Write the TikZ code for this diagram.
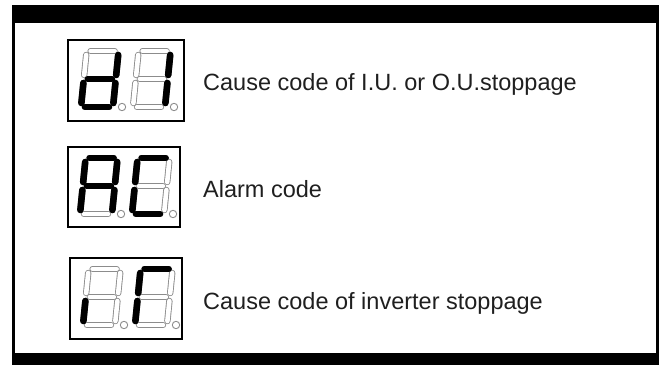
\documentclass[tikz,border=0pt]{standalone}
\usepackage{fontspec}
\setmainfont{Liberation Sans}

\tikzset{
  segon/.style={line width=6.6pt, line cap=round, draw=black},
  segoff/.style={line width=0.9pt, draw=black!45, double=white, double distance=4.6pt, line cap=round},
  dpoff/.style={line width=0.9pt, draw=black!45},
  dispbox/.style={draw, line width=2.6pt, inner sep=0pt},
  caption/.style={anchor=base west, inner sep=0pt, font=\fontsize{23.5}{28}\selectfont, text=black!88},
}

% one slanted seven segment digit: x, y of lower left, list of lit segments
\newcommand\segdigit[3]{%
  \begin{scope}[shift={(#1,#2)}, xslant=0.1]
    \foreach \sg/\xa/\ya/\xb/\yb in {a/4/56/28/56, b/32/52/32/32, c/32/24/32/4,
        d/4/0/28/0, e/0/24/0/4, f/0/52/0/32, g/4/28/28/28}{
      \coordinate (\sg1) at (\xa,\ya);
      \coordinate (\sg2) at (\xb,\yb);
      \draw[segoff] (\sg1) -- (\sg2);
    }
    \foreach \sg in {#3}
      \draw[segon] (\sg1) -- (\sg2);
  \end{scope}
  \draw[dpoff] ({#1+41},#2) circle (3.7pt);
}

\begin{document}
\begin{tikzpicture}[x=1pt,y=1pt]
        \useasboundingbox (0,0) rectangle (662,365);
        % frame
        \fill (12,342) rectangle (659,360);
        \fill (12,0) rectangle (659,12);
        \fill (12,0) rectangle (15,360);
        \fill (656,0) rectangle (659,360);
        % display boxes
        \draw (126,284.5) node[dispbox,minimum width=116pt,minimum height=81pt] (boxA) {};
        \draw (124,178) node[dispbox,minimum width=112pt,minimum height=80pt] (boxB) {};
        \draw (126,66.5) node[dispbox,minimum width=112pt,minimum height=81pt] (boxC) {};
        % digits
        \segdigit{81}{258}{b,c,d,e,g}
        \segdigit{133}{258}{b,c}
        \segdigit{80}{151}{a,b,c,e,f,g}
        \segdigit{132}{151}{a,d,e,f}
        \segdigit{83}{40}{e}
        \segdigit{135}{40}{a,e,f}
        % texts
        \draw (203,274) node[caption] (capA) {Cause code of I.U. or O.U.stoppage};
        \draw (203,167.5) node[caption] (capB) {Alarm code};
        \draw (203,56) node[caption] (capC) {Cause code of inverter stoppage};
\end{tikzpicture}
\end{document}
